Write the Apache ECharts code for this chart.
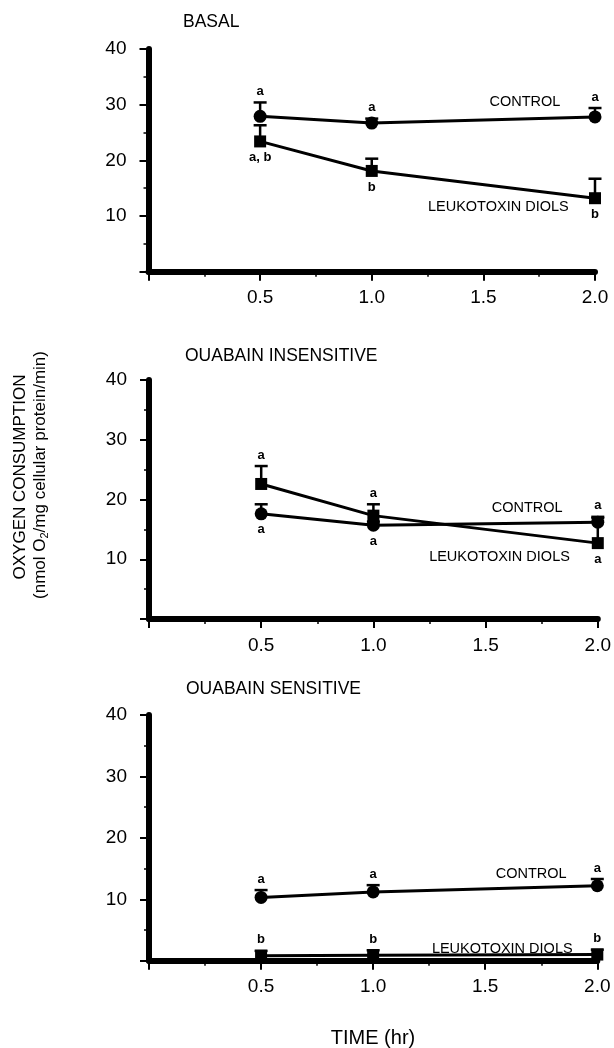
<!DOCTYPE html>
<html>
<head>
<meta charset="utf-8">
<script src="https://cdn.jsdelivr.net/npm/echarts@6/dist/echarts.min.js"></script>
<style>
html,body{margin:0;padding:0;background:#fff;}
#chart{width:614px;height:1048px;}
</style>
</head>
<body>
<div id="chart"></div>
<script>
// ---- data ----
const time = [0.5, 1.0, 2.0];
const xTickLabels = ['0.5', '1.0', '1.5', '2.0'];
const yTickLabels = ['10', '20', '30', '40'];

const basalControl = [27.9, 26.7, 27.8];
const basalControlErr = [30.4, 27.5, 29.4];
const basalLeuko = [23.4, 18.1, 13.2];
const basalLeukoErr = [26.3, 20.3, 16.7];

const insControl = [17.6, 15.7, 16.2];
const insControlErr = [19.2, 16.3, 17.1];
const insLeuko = [22.6, 17.3, 12.7];
const insLeukoErr = [25.6, 19.2, 16.9];

const senControl = [10.3, 11.2, 12.2];
const senControlErr = [11.5, 12.3, 13.3];
const senLeuko = [0.8, 0.9, 1.0];
const senLeukoErr = [1.6, 1.7, 1.8];

const basalControlLetters = ['a', 'a', 'a'];
const basalControlSides = ['above', 'above', 'above'];
const basalLeukoLetters = ['a, b', 'b', 'b'];
const basalLeukoSides = ['below', 'below', 'below'];
const insControlLetters = ['a', 'a', 'a'];
const insControlSides = ['below', 'below', 'above'];
const insLeukoLetters = ['a', 'a', 'a'];
const insLeukoSides = ['above', 'above', 'below'];
const senControlLetters = ['a', 'a', 'a'];
const senControlSides = ['above', 'above', 'above'];
const senLeukoLetters = ['b', 'b', 'b'];
const senLeukoSides = ['above', 'above', 'above'];

const panelTitles = ['BASAL', 'OUABAIN INSENSITIVE', 'OUABAIN SENSITIVE'];
const controlName = 'CONTROL';
const leukoName = 'LEUKOTOXIN DIOLS';

// ---- layout ----
const FONT = 'Liberation Sans, Arial, Helvetica, sans-serif';
const panels = [
  { title: panelTitles[0], titlePos: [183, 13],
    grid: { left: 148.5, top: 49, width: 446.5, height: 222.7 },
    ctl: basalControl, ctlErr: basalControlErr, ctlLetters: basalControlLetters, ctlSides: basalControlSides,
    leu: basalLeuko, leuErr: basalLeukoErr, leuLetters: basalLeukoLetters, leuSides: basalLeukoSides,
    ctlNamePos: [1.686, 30.5], leuNamePos: [1.567, 11.6] },
  { title: panelTitles[1], titlePos: [185, 347],
    grid: { left: 149, top: 380, width: 452, height: 239 },
    ctl: insControl, ctlErr: insControlErr, ctlLetters: insControlLetters, ctlSides: insControlSides,
    leu: insLeuko, leuErr: insLeukoErr, leuLetters: insLeukoLetters, leuSides: insLeukoSides,
    ctlNamePos: [1.685, 18.66], leuNamePos: [1.562, 10.46] },
  { title: panelTitles[2], titlePos: [186, 680],
    grid: { left: 149, top: 715, width: 448.3, height: 245.7 },
    ctl: senControl, ctlErr: senControlErr, ctlLetters: senControlLetters, ctlSides: senControlSides,
    leu: senLeuko, leuErr: senLeukoErr, leuLetters: senLeukoLetters, leuSides: senLeukoSides,
    ctlNamePos: [1.705, 14.15], leuNamePos: [1.576, 1.9] }
];

const grids = [], xAxes = [], yAxes = [], series = [], titles = [];

function xLabel(v) {
  const i = [0.5, 1, 1.5, 2].indexOf(Math.round(v * 100) / 100);
  return i >= 0 ? xTickLabels[i] : '';
}
function yLabel(v) {
  const i = [10, 20, 30, 40].indexOf(Math.round(v));
  return i >= 0 ? yTickLabels[i] : '';
}

function errSeries(gi, means, tops) {
  return {
    type: 'custom', xAxisIndex: gi, yAxisIndex: gi, z: 2, silent: true,
    data: time.map((t, i) => [t, means[i], tops[i]]),
    encode: { x: 0, y: [1, 2] },
    renderItem: function (params, api) {
      const x = api.value(0);
      const p1 = api.coord([x, api.value(1)]);
      const p2 = api.coord([x, api.value(2)]);
      return { type: 'group', children: [
        { type: 'line', shape: { x1: p1[0], y1: p1[1], x2: p2[0], y2: p2[1] }, style: { stroke: '#000', lineWidth: 2.5 } },
        { type: 'line', shape: { x1: p2[0] - 6.5, y1: p2[1], x2: p2[0] + 6.5, y2: p2[1] }, style: { stroke: '#000', lineWidth: 2.5 } }
      ]};
    }
  };
}

function letterSeries(gi, means, tops, letters, sides) {
  return {
    type: 'custom', xAxisIndex: gi, yAxisIndex: gi, z: 10, silent: true,
    data: time.map((t, i) => [t, sides[i] === 'above' ? tops[i] : means[i], i]),
    encode: { x: 0, y: 1 },
    renderItem: function (params, api) {
      const i = params.dataIndex;
      const p = api.coord([api.value(0), api.value(1)]);
      const off = sides[i] === 'above' ? -11 : 16;
      return { type: 'text', x: p[0], y: p[1] + off,
        style: { text: letters[i], fill: '#000', font: 'bold 13px ' + FONT, textAlign: 'center', textVerticalAlign: 'middle' } };
    }
  };
}

function nameSeries(gi, pos, name) {
  return {
    type: 'custom', xAxisIndex: gi, yAxisIndex: gi, z: 10, silent: true,
    data: [pos],
    encode: { x: 0, y: 1 },
    renderItem: function (params, api) {
      const p = api.coord([api.value(0), api.value(1)]);
      return { type: 'text', x: p[0], y: p[1],
        style: { text: name, fill: '#000', font: '14.5px ' + FONT, textAlign: 'center', textVerticalAlign: 'middle' } };
    }
  };
}

panels.forEach((pn, gi) => {
  grids.push(pn.grid);
  titles.push({ text: pn.title, left: pn.titlePos[0], top: pn.titlePos[1], padding: 0,
    textStyle: { fontSize: 17.5, fontWeight: 'normal', color: '#000', fontFamily: FONT } });
  xAxes.push({
    type: 'value', gridIndex: gi, min: 0, max: 2, interval: 0.5,
    axisLine: { show: true, onZero: false, lineStyle: { color: '#000', width: 6 } },
    axisTick: { show: true, length: 9, lineStyle: { color: '#000', width: 2 } },
    minorTick: { show: true, splitNumber: 2, length: 5, lineStyle: { color: '#000', width: 1.5 } },
    splitLine: { show: false }, minorSplitLine: { show: false },
    axisLabel: { formatter: xLabel, fontSize: 19, color: '#000', margin: 17, fontFamily: FONT }
  });
  yAxes.push({
    type: 'value', gridIndex: gi, min: 0, max: 40, interval: 10,
    axisLine: { show: true, onZero: false, lineStyle: { color: '#000', width: 6 } },
    axisTick: { show: true, length: 9, lineStyle: { color: '#000', width: 2 } },
    minorTick: { show: true, splitNumber: 2, length: 5, lineStyle: { color: '#000', width: 1.5 } },
    splitLine: { show: false }, minorSplitLine: { show: false },
    axisLabel: { formatter: yLabel, fontSize: 19, color: '#000', margin: 22, fontFamily: FONT }
  });
  series.push(errSeries(gi, pn.ctl, pn.ctlErr));
  series.push(errSeries(gi, pn.leu, pn.leuErr));
  series.push({
    name: controlName, type: 'line', xAxisIndex: gi, yAxisIndex: gi, z: 5,
    data: time.map((t, i) => [t, pn.ctl[i]]),
    symbol: 'circle', symbolSize: 13, showAllSymbol: true,
    itemStyle: { color: '#000' }, lineStyle: { color: '#000', width: 3 }
  });
  series.push({
    name: leukoName, type: 'line', xAxisIndex: gi, yAxisIndex: gi, z: 5,
    data: time.map((t, i) => [t, pn.leu[i]]),
    symbol: 'rect', symbolSize: 12, showAllSymbol: true,
    itemStyle: { color: '#000' }, lineStyle: { color: '#000', width: 3 }
  });
  series.push(letterSeries(gi, pn.ctl, pn.ctlErr, pn.ctlLetters, pn.ctlSides));
  series.push(letterSeries(gi, pn.leu, pn.leuErr, pn.leuLetters, pn.leuSides));
  series.push(nameSeries(gi, pn.ctlNamePos, controlName));
  series.push(nameSeries(gi, pn.leuNamePos, leukoName));
});

const chart = echarts.init(document.getElementById('chart'), null, { renderer: 'canvas' });
chart.setOption({
  animation: false,
  backgroundColor: '#fff',
  title: titles,
  grid: grids,
  xAxis: xAxes,
  yAxis: yAxes,
  series: series,
  graphic: [
    { type: 'text', x: 20, y: 477, rotation: Math.PI / 2,
      style: { text: 'OXYGEN CONSUMPTION', fill: '#000', font: '17px ' + FONT, textAlign: 'center', textVerticalAlign: 'middle' } },
    { type: 'text', x: 40, y: 475, rotation: Math.PI / 2,
      style: { text: '(nmol O{sub|2}/mg cellular protein/min)', fill: '#000', font: '17px ' + FONT,
        textAlign: 'center', textVerticalAlign: 'middle',
        rich: { sub: { fontSize: 11, fontFamily: FONT, verticalAlign: 'bottom', padding: [9, 0, 0, 0] } } } },
    { type: 'text', x: 373, y: 1038,
      style: { text: 'TIME (hr)', fill: '#000', font: '20px ' + FONT, textAlign: 'center', textVerticalAlign: 'middle' } }
  ]
});
</script>
</body>
</html>
